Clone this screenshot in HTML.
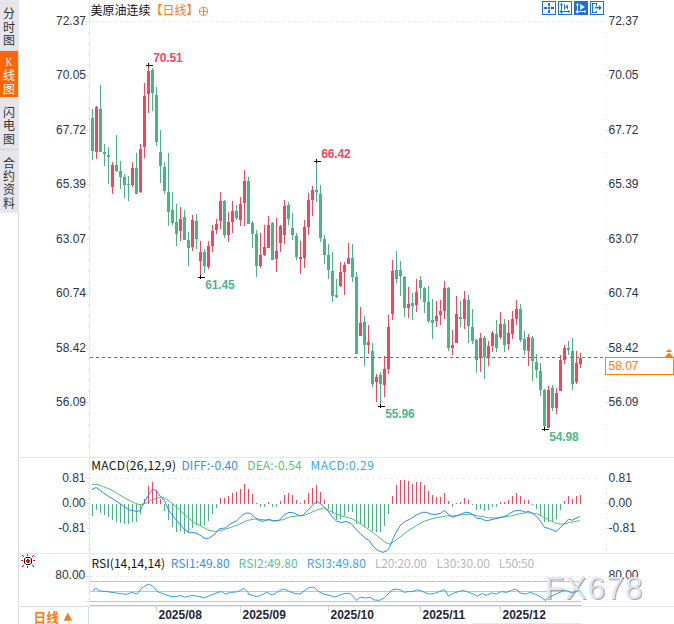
<!DOCTYPE html>
<html lang="zh"><head><meta charset="utf-8"><title>美原油连续 日线</title>
<style>
html,body{margin:0;padding:0;background:#fff}
body{width:674px;height:624px;overflow:hidden;position:relative}
svg{position:absolute;left:0;top:0;display:block}
text{font-family:"Liberation Sans","Noto Sans CJK SC",sans-serif;font-size:12px}
.cj{font-family:"Noto Sans CJK SC","Liberation Sans",sans-serif}
.ax{fill:#2b3446}
.b{font-weight:bold}
</style></head><body>
<svg width="674" height="624" viewBox="0 0 674 624">

<g shape-rendering="crispEdges">
<rect x="0" y="0" width="19" height="213" fill="#e6e6ea"/>
<rect x="0" y="51" width="18" height="46" fill="#ff6600"/>
<rect x="0" y="149" width="19" height="1" fill="#d4d4d8"/>
<rect x="0" y="50" width="19" height="1" fill="#dcdce0"/>
<rect x="18" y="213" width="1" height="411" fill="#d5dde6"/>
<rect x="19" y="457" width="655" height="1" fill="#e3e8ee"/>
<rect x="19" y="553" width="655" height="1" fill="#e3e8ee"/>
<rect x="19" y="606" width="655" height="1" fill="#e3e8ee"/>
<rect x="88" y="606" width="1" height="18" fill="#d5dde6"/>
<rect x="19" y="606" width="70" height="1" fill="#d5dde6"/>
<rect x="89" y="0" width="1" height="606" fill="#e1e8ef"/>
<rect x="472" y="623" width="110" height="1" fill="#e3e8ee"/>
</g>
<text class="cj" x="9" y="18" text-anchor="middle" fill="#333">分</text>
<text class="cj" x="9" y="31.5" text-anchor="middle" fill="#333">时</text>
<text class="cj" x="9" y="45" text-anchor="middle" fill="#333">图</text>
<text x="9" y="65.8" text-anchor="middle" fill="#fff" transform="translate(9 0) scale(0.8 1) translate(-9 0)" style="font-family:'Liberation Serif',serif;font-size:12px">K</text>
<text class="cj" x="9" y="80" text-anchor="middle" fill="#fff">线</text>
<text class="cj" x="9" y="93.5" text-anchor="middle" fill="#fff">图</text>
<text class="cj" x="9" y="116.5" text-anchor="middle" fill="#333">闪</text>
<text class="cj" x="9" y="130" text-anchor="middle" fill="#333">电</text>
<text class="cj" x="9" y="143.5" text-anchor="middle" fill="#333">图</text>
<text class="cj" x="9" y="167.5" text-anchor="middle" fill="#333">合</text>
<text class="cj" x="9" y="180.5" text-anchor="middle" fill="#333">约</text>
<text class="cj" x="9" y="194" text-anchor="middle" fill="#333">资</text>
<text class="cj" x="9" y="208" text-anchor="middle" fill="#333">料</text>
<g shape-rendering="crispEdges" fill="none">
<path d="M90 21.5H603" stroke="#e8edf2" stroke-dasharray="3 3"/>
<path d="M90 478.5H602" stroke="#e8edf2" stroke-dasharray="3 3"/>
<path d="M90 576.5H602" stroke="#e8edf2" stroke-dasharray="3 3"/>
</g>
<g shape-rendering="crispEdges" fill="#d5dde6">
<rect x="86" y="21" width="3" height="1"/>
<rect x="88" y="32" width="1" height="1"/>
<rect x="606" y="32" width="1" height="1"/>
<rect x="88" y="43" width="1" height="1"/>
<rect x="606" y="43" width="1" height="1"/>
<rect x="88" y="54" width="1" height="1"/>
<rect x="606" y="54" width="1" height="1"/>
<rect x="88" y="64" width="1" height="1"/>
<rect x="606" y="64" width="1" height="1"/>
<rect x="86" y="75" width="3" height="1"/>
<rect x="606" y="75" width="3" height="1"/>
<rect x="88" y="86" width="1" height="1"/>
<rect x="606" y="86" width="1" height="1"/>
<rect x="88" y="97" width="1" height="1"/>
<rect x="606" y="97" width="1" height="1"/>
<rect x="88" y="108" width="1" height="1"/>
<rect x="606" y="108" width="1" height="1"/>
<rect x="88" y="119" width="1" height="1"/>
<rect x="606" y="119" width="1" height="1"/>
<rect x="86" y="130" width="3" height="1"/>
<rect x="606" y="130" width="3" height="1"/>
<rect x="88" y="141" width="1" height="1"/>
<rect x="606" y="141" width="1" height="1"/>
<rect x="88" y="152" width="1" height="1"/>
<rect x="606" y="152" width="1" height="1"/>
<rect x="88" y="162" width="1" height="1"/>
<rect x="606" y="162" width="1" height="1"/>
<rect x="88" y="173" width="1" height="1"/>
<rect x="606" y="173" width="1" height="1"/>
<rect x="86" y="184" width="3" height="1"/>
<rect x="606" y="184" width="3" height="1"/>
<rect x="88" y="195" width="1" height="1"/>
<rect x="606" y="195" width="1" height="1"/>
<rect x="88" y="206" width="1" height="1"/>
<rect x="606" y="206" width="1" height="1"/>
<rect x="88" y="217" width="1" height="1"/>
<rect x="606" y="217" width="1" height="1"/>
<rect x="88" y="228" width="1" height="1"/>
<rect x="606" y="228" width="1" height="1"/>
<rect x="86" y="239" width="3" height="1"/>
<rect x="606" y="239" width="3" height="1"/>
<rect x="88" y="250" width="1" height="1"/>
<rect x="606" y="250" width="1" height="1"/>
<rect x="88" y="260" width="1" height="1"/>
<rect x="606" y="260" width="1" height="1"/>
<rect x="88" y="271" width="1" height="1"/>
<rect x="606" y="271" width="1" height="1"/>
<rect x="88" y="282" width="1" height="1"/>
<rect x="606" y="282" width="1" height="1"/>
<rect x="86" y="293" width="3" height="1"/>
<rect x="606" y="293" width="3" height="1"/>
<rect x="88" y="304" width="1" height="1"/>
<rect x="606" y="304" width="1" height="1"/>
<rect x="88" y="315" width="1" height="1"/>
<rect x="606" y="315" width="1" height="1"/>
<rect x="88" y="326" width="1" height="1"/>
<rect x="606" y="326" width="1" height="1"/>
<rect x="88" y="337" width="1" height="1"/>
<rect x="606" y="337" width="1" height="1"/>
<rect x="86" y="348" width="3" height="1"/>
<rect x="606" y="348" width="3" height="1"/>
<rect x="88" y="358" width="1" height="1"/>
<rect x="606" y="358" width="1" height="1"/>
<rect x="88" y="369" width="1" height="1"/>
<rect x="606" y="369" width="1" height="1"/>
<rect x="88" y="380" width="1" height="1"/>
<rect x="606" y="380" width="1" height="1"/>
<rect x="88" y="391" width="1" height="1"/>
<rect x="606" y="391" width="1" height="1"/>
<rect x="86" y="402" width="3" height="1"/>
<rect x="606" y="402" width="3" height="1"/>
<rect x="88" y="413" width="1" height="1"/>
<rect x="606" y="413" width="1" height="1"/>
<rect x="88" y="424" width="1" height="1"/>
<rect x="606" y="424" width="1" height="1"/>
<rect x="88" y="435" width="1" height="1"/>
<rect x="606" y="435" width="1" height="1"/>
<rect x="88" y="446" width="1" height="1"/>
<rect x="606" y="446" width="1" height="1"/>
<rect x="87" y="478" width="2" height="1"/>
<rect x="87" y="503" width="2" height="1"/>
<rect x="606" y="503" width="3" height="1"/>
<rect x="87" y="528" width="2" height="1"/>
<rect x="606" y="528" width="3" height="1"/>
<rect x="88" y="483" width="1" height="1"/>
<rect x="606" y="483" width="1" height="1"/>
<rect x="88" y="488" width="1" height="1"/>
<rect x="606" y="488" width="1" height="1"/>
<rect x="88" y="493" width="1" height="1"/>
<rect x="606" y="493" width="1" height="1"/>
<rect x="88" y="498" width="1" height="1"/>
<rect x="606" y="498" width="1" height="1"/>
<rect x="88" y="508" width="1" height="1"/>
<rect x="606" y="508" width="1" height="1"/>
<rect x="88" y="513" width="1" height="1"/>
<rect x="606" y="513" width="1" height="1"/>
<rect x="88" y="518" width="1" height="1"/>
<rect x="606" y="518" width="1" height="1"/>
<rect x="88" y="523" width="1" height="1"/>
<rect x="606" y="523" width="1" height="1"/>
<rect x="88" y="533" width="1" height="1"/>
<rect x="606" y="533" width="1" height="1"/>
<rect x="88" y="538" width="1" height="1"/>
<rect x="606" y="538" width="1" height="1"/>
<rect x="88" y="544" width="1" height="1"/>
<rect x="606" y="544" width="1" height="1"/>
<rect x="88" y="549" width="1" height="1"/>
<rect x="606" y="549" width="1" height="1"/>
<rect x="88" y="581" width="1" height="1"/>
<rect x="88" y="587" width="1" height="1"/>
<rect x="88" y="593" width="1" height="1"/>
<rect x="88" y="599" width="1" height="1"/>
<rect x="86" y="576" width="3" height="1"/>
<rect x="86" y="581" width="3" height="1"/>
<rect x="86" y="601" width="3" height="1"/>
<rect x="606" y="582" width="1" height="1"/>
<rect x="606" y="588" width="1" height="1"/>
<rect x="606" y="594" width="1" height="1"/>
<rect x="606" y="600" width="1" height="1"/>
</g>
<text class="ax" x="86" y="24.8" text-anchor="end">72.37</text>
<text class="ax" x="608.5" y="24.8">72.37</text>
<text class="ax" x="86" y="79.2" text-anchor="end">70.05</text>
<text class="ax" x="608.5" y="79.2">70.05</text>
<text class="ax" x="86" y="133.7" text-anchor="end">67.72</text>
<text class="ax" x="608.5" y="133.7">67.72</text>
<text class="ax" x="86" y="188.2" text-anchor="end">65.39</text>
<text class="ax" x="608.5" y="188.2">65.39</text>
<text class="ax" x="86" y="242.6" text-anchor="end">63.07</text>
<text class="ax" x="608.5" y="242.6">63.07</text>
<text class="ax" x="86" y="297.0" text-anchor="end">60.74</text>
<text class="ax" x="608.5" y="297.0">60.74</text>
<text class="ax" x="86" y="351.5" text-anchor="end">58.42</text>
<text class="ax" x="608.5" y="351.5">58.42</text>
<text class="ax" x="86" y="405.9" text-anchor="end">56.09</text>
<text class="ax" x="608.5" y="405.9">56.09</text>
<text class="ax" x="85.5" y="481.8" text-anchor="end">0.81</text>
<text class="ax" x="608.5" y="481.8">0.81</text>
<text class="ax" x="85.5" y="507.0" text-anchor="end">0.00</text>
<text class="ax" x="608.5" y="507.0">0.00</text>
<text class="ax" x="85.5" y="532.2" text-anchor="end">-0.81</text>
<text class="ax" x="608.5" y="532.2">-0.81</text>
<text class="ax" x="85.3" y="578.6" text-anchor="end">80.00</text>
<text class="ax" x="608.5" y="578.7">80.00</text>
<g shape-rendering="crispEdges">
<rect x="92" y="109" width="1" height="51" fill="#4db385"/>
<rect x="91" y="118" width="3" height="33" fill="#4db385"/>
<rect x="96" y="106" width="1" height="53" fill="#ea4a5e"/>
<rect x="95" y="107" width="3" height="45" fill="#ea4a5e"/>
<rect x="100" y="85" width="1" height="67" fill="#4db385"/>
<rect x="99" y="109" width="3" height="43" fill="#4db385"/>
<rect x="104" y="144" width="1" height="22" fill="#4db385"/>
<rect x="103" y="152" width="3" height="2" fill="#4db385"/>
<rect x="108" y="147" width="1" height="37" fill="#4db385"/>
<rect x="107" y="155" width="3" height="2" fill="#4db385"/>
<rect x="112" y="162" width="1" height="32" fill="#ea4a5e"/>
<rect x="111" y="165" width="3" height="22" fill="#ea4a5e"/>
<rect x="116" y="135" width="1" height="37" fill="#4db385"/>
<rect x="115" y="165" width="3" height="6" fill="#4db385"/>
<rect x="120" y="161" width="1" height="28" fill="#4db385"/>
<rect x="119" y="171" width="3" height="6" fill="#4db385"/>
<rect x="124" y="174" width="1" height="24" fill="#4db385"/>
<rect x="123" y="177" width="3" height="8" fill="#4db385"/>
<rect x="128" y="176" width="1" height="25" fill="#4db385"/>
<rect x="127" y="184" width="3" height="1" fill="#4db385"/>
<rect x="132" y="162" width="1" height="25" fill="#ea4a5e"/>
<rect x="131" y="168" width="3" height="17" fill="#ea4a5e"/>
<rect x="136" y="153" width="1" height="41" fill="#4db385"/>
<rect x="135" y="168" width="3" height="26" fill="#4db385"/>
<rect x="140" y="144" width="1" height="49" fill="#ea4a5e"/>
<rect x="139" y="149" width="3" height="43" fill="#ea4a5e"/>
<rect x="144" y="83" width="1" height="75" fill="#ea4a5e"/>
<rect x="143" y="96" width="3" height="51" fill="#ea4a5e"/>
<rect x="148" y="65" width="1" height="48" fill="#ea4a5e"/>
<rect x="147" y="71" width="3" height="23" fill="#ea4a5e"/>
<rect x="152" y="68" width="1" height="43" fill="#4db385"/>
<rect x="151" y="70" width="3" height="23" fill="#4db385"/>
<rect x="156" y="87" width="1" height="59" fill="#4db385"/>
<rect x="155" y="95" width="3" height="47" fill="#4db385"/>
<rect x="160" y="130" width="1" height="53" fill="#4db385"/>
<rect x="159" y="152" width="3" height="14" fill="#4db385"/>
<rect x="164" y="162" width="1" height="32" fill="#4db385"/>
<rect x="163" y="167" width="3" height="24" fill="#4db385"/>
<rect x="168" y="153" width="1" height="73" fill="#4db385"/>
<rect x="167" y="192" width="3" height="20" fill="#4db385"/>
<rect x="172" y="192" width="1" height="33" fill="#4db385"/>
<rect x="171" y="210" width="3" height="13" fill="#4db385"/>
<rect x="176" y="204" width="1" height="42" fill="#4db385"/>
<rect x="175" y="222" width="3" height="12" fill="#4db385"/>
<rect x="180" y="207" width="1" height="34" fill="#ea4a5e"/>
<rect x="179" y="219" width="3" height="12" fill="#ea4a5e"/>
<rect x="184" y="210" width="1" height="30" fill="#4db385"/>
<rect x="183" y="217" width="3" height="23" fill="#4db385"/>
<rect x="188" y="232" width="1" height="34" fill="#4db385"/>
<rect x="187" y="240" width="3" height="8" fill="#4db385"/>
<rect x="192" y="215" width="1" height="36" fill="#ea4a5e"/>
<rect x="191" y="220" width="3" height="27" fill="#ea4a5e"/>
<rect x="196" y="214" width="1" height="35" fill="#4db385"/>
<rect x="195" y="221" width="3" height="18" fill="#4db385"/>
<rect x="200" y="241" width="1" height="36" fill="#ea4a5e"/>
<rect x="199" y="252" width="3" height="9" fill="#ea4a5e"/>
<rect x="204" y="249" width="1" height="24" fill="#4db385"/>
<rect x="203" y="252" width="3" height="14" fill="#4db385"/>
<rect x="208" y="241" width="1" height="28" fill="#ea4a5e"/>
<rect x="207" y="246" width="3" height="21" fill="#ea4a5e"/>
<rect x="212" y="225" width="1" height="27" fill="#ea4a5e"/>
<rect x="211" y="231" width="3" height="15" fill="#ea4a5e"/>
<rect x="216" y="219" width="1" height="15" fill="#ea4a5e"/>
<rect x="215" y="224" width="3" height="6" fill="#ea4a5e"/>
<rect x="220" y="192" width="1" height="37" fill="#ea4a5e"/>
<rect x="219" y="201" width="3" height="20" fill="#ea4a5e"/>
<rect x="224" y="200" width="1" height="38" fill="#4db385"/>
<rect x="223" y="201" width="3" height="34" fill="#4db385"/>
<rect x="228" y="212" width="1" height="30" fill="#ea4a5e"/>
<rect x="227" y="222" width="3" height="13" fill="#ea4a5e"/>
<rect x="232" y="201" width="1" height="32" fill="#ea4a5e"/>
<rect x="231" y="211" width="3" height="11" fill="#ea4a5e"/>
<rect x="236" y="205" width="1" height="15" fill="#4db385"/>
<rect x="235" y="211" width="3" height="7" fill="#4db385"/>
<rect x="240" y="197" width="1" height="29" fill="#ea4a5e"/>
<rect x="239" y="204" width="3" height="16" fill="#ea4a5e"/>
<rect x="244" y="170" width="1" height="56" fill="#ea4a5e"/>
<rect x="243" y="181" width="3" height="22" fill="#ea4a5e"/>
<rect x="248" y="177" width="1" height="47" fill="#4db385"/>
<rect x="247" y="181" width="3" height="43" fill="#4db385"/>
<rect x="252" y="221" width="1" height="27" fill="#4db385"/>
<rect x="251" y="223" width="3" height="11" fill="#4db385"/>
<rect x="256" y="230" width="1" height="47" fill="#4db385"/>
<rect x="255" y="234" width="3" height="32" fill="#4db385"/>
<rect x="260" y="233" width="1" height="35" fill="#ea4a5e"/>
<rect x="259" y="255" width="3" height="11" fill="#ea4a5e"/>
<rect x="264" y="225" width="1" height="31" fill="#ea4a5e"/>
<rect x="263" y="247" width="3" height="8" fill="#ea4a5e"/>
<rect x="268" y="216" width="1" height="32" fill="#ea4a5e"/>
<rect x="267" y="225" width="3" height="23" fill="#ea4a5e"/>
<rect x="272" y="222" width="1" height="38" fill="#4db385"/>
<rect x="271" y="223" width="3" height="37" fill="#4db385"/>
<rect x="276" y="218" width="1" height="54" fill="#ea4a5e"/>
<rect x="275" y="251" width="3" height="8" fill="#ea4a5e"/>
<rect x="280" y="225" width="1" height="27" fill="#ea4a5e"/>
<rect x="279" y="226" width="3" height="17" fill="#ea4a5e"/>
<rect x="284" y="200" width="1" height="44" fill="#ea4a5e"/>
<rect x="283" y="206" width="3" height="29" fill="#ea4a5e"/>
<rect x="288" y="202" width="1" height="23" fill="#4db385"/>
<rect x="287" y="205" width="3" height="14" fill="#4db385"/>
<rect x="292" y="213" width="1" height="27" fill="#4db385"/>
<rect x="291" y="228" width="3" height="7" fill="#4db385"/>
<rect x="296" y="233" width="1" height="27" fill="#4db385"/>
<rect x="295" y="236" width="3" height="21" fill="#4db385"/>
<rect x="300" y="241" width="1" height="33" fill="#ea4a5e"/>
<rect x="299" y="257" width="3" height="2" fill="#ea4a5e"/>
<rect x="304" y="220" width="1" height="48" fill="#ea4a5e"/>
<rect x="303" y="227" width="3" height="31" fill="#ea4a5e"/>
<rect x="308" y="193" width="1" height="42" fill="#ea4a5e"/>
<rect x="307" y="200" width="3" height="27" fill="#ea4a5e"/>
<rect x="312" y="186" width="1" height="30" fill="#ea4a5e"/>
<rect x="311" y="190" width="3" height="10" fill="#ea4a5e"/>
<rect x="316" y="161" width="1" height="41" fill="#4db385"/>
<rect x="315" y="190" width="3" height="2" fill="#4db385"/>
<rect x="320" y="185" width="1" height="57" fill="#4db385"/>
<rect x="319" y="194" width="3" height="44" fill="#4db385"/>
<rect x="324" y="235" width="1" height="29" fill="#4db385"/>
<rect x="323" y="239" width="3" height="16" fill="#4db385"/>
<rect x="328" y="244" width="1" height="35" fill="#4db385"/>
<rect x="327" y="255" width="3" height="15" fill="#4db385"/>
<rect x="332" y="252" width="1" height="50" fill="#4db385"/>
<rect x="331" y="271" width="3" height="25" fill="#4db385"/>
<rect x="336" y="279" width="1" height="19" fill="#4db385"/>
<rect x="335" y="295" width="3" height="2" fill="#4db385"/>
<rect x="340" y="262" width="1" height="25" fill="#ea4a5e"/>
<rect x="339" y="272" width="3" height="14" fill="#ea4a5e"/>
<rect x="344" y="262" width="1" height="33" fill="#ea4a5e"/>
<rect x="343" y="265" width="3" height="7" fill="#ea4a5e"/>
<rect x="348" y="243" width="1" height="21" fill="#ea4a5e"/>
<rect x="347" y="258" width="3" height="6" fill="#ea4a5e"/>
<rect x="352" y="244" width="1" height="38" fill="#4db385"/>
<rect x="351" y="258" width="3" height="19" fill="#4db385"/>
<rect x="356" y="272" width="1" height="82" fill="#4db385"/>
<rect x="355" y="277" width="3" height="77" fill="#4db385"/>
<rect x="360" y="307" width="1" height="29" fill="#ea4a5e"/>
<rect x="359" y="323" width="3" height="13" fill="#ea4a5e"/>
<rect x="364" y="316" width="1" height="50" fill="#4db385"/>
<rect x="363" y="322" width="3" height="23" fill="#4db385"/>
<rect x="368" y="325" width="1" height="29" fill="#ea4a5e"/>
<rect x="367" y="342" width="3" height="3" fill="#ea4a5e"/>
<rect x="372" y="343" width="1" height="44" fill="#4db385"/>
<rect x="371" y="351" width="3" height="33" fill="#4db385"/>
<rect x="376" y="374" width="1" height="28" fill="#ea4a5e"/>
<rect x="375" y="377" width="3" height="5" fill="#ea4a5e"/>
<rect x="380" y="372" width="1" height="34" fill="#4db385"/>
<rect x="379" y="375" width="3" height="9" fill="#4db385"/>
<rect x="384" y="356" width="1" height="41" fill="#ea4a5e"/>
<rect x="383" y="369" width="3" height="16" fill="#ea4a5e"/>
<rect x="388" y="315" width="1" height="59" fill="#ea4a5e"/>
<rect x="387" y="327" width="3" height="42" fill="#ea4a5e"/>
<rect x="392" y="260" width="1" height="60" fill="#ea4a5e"/>
<rect x="391" y="271" width="3" height="43" fill="#ea4a5e"/>
<rect x="396" y="251" width="1" height="32" fill="#4db385"/>
<rect x="395" y="270" width="3" height="9" fill="#4db385"/>
<rect x="400" y="261" width="1" height="35" fill="#4db385"/>
<rect x="399" y="270" width="3" height="6" fill="#4db385"/>
<rect x="404" y="276" width="1" height="41" fill="#4db385"/>
<rect x="403" y="277" width="3" height="31" fill="#4db385"/>
<rect x="408" y="287" width="1" height="31" fill="#ea4a5e"/>
<rect x="407" y="304" width="3" height="4" fill="#ea4a5e"/>
<rect x="412" y="293" width="1" height="27" fill="#4db385"/>
<rect x="411" y="303" width="3" height="3" fill="#4db385"/>
<rect x="416" y="279" width="1" height="33" fill="#ea4a5e"/>
<rect x="415" y="292" width="3" height="13" fill="#ea4a5e"/>
<rect x="420" y="276" width="1" height="23" fill="#4db385"/>
<rect x="419" y="280" width="3" height="8" fill="#4db385"/>
<rect x="424" y="287" width="1" height="26" fill="#4db385"/>
<rect x="423" y="288" width="3" height="14" fill="#4db385"/>
<rect x="428" y="286" width="1" height="37" fill="#4db385"/>
<rect x="427" y="302" width="3" height="19" fill="#4db385"/>
<rect x="432" y="299" width="1" height="40" fill="#4db385"/>
<rect x="431" y="320" width="3" height="3" fill="#4db385"/>
<rect x="436" y="301" width="1" height="26" fill="#ea4a5e"/>
<rect x="435" y="316" width="3" height="5" fill="#ea4a5e"/>
<rect x="440" y="300" width="1" height="25" fill="#ea4a5e"/>
<rect x="439" y="311" width="3" height="4" fill="#ea4a5e"/>
<rect x="444" y="281" width="1" height="38" fill="#ea4a5e"/>
<rect x="443" y="288" width="3" height="23" fill="#ea4a5e"/>
<rect x="448" y="287" width="1" height="64" fill="#4db385"/>
<rect x="447" y="288" width="3" height="60" fill="#4db385"/>
<rect x="452" y="330" width="1" height="25" fill="#ea4a5e"/>
<rect x="451" y="345" width="3" height="3" fill="#ea4a5e"/>
<rect x="456" y="296" width="1" height="47" fill="#ea4a5e"/>
<rect x="455" y="314" width="3" height="29" fill="#ea4a5e"/>
<rect x="460" y="301" width="1" height="26" fill="#4db385"/>
<rect x="459" y="317" width="3" height="2" fill="#4db385"/>
<rect x="464" y="291" width="1" height="38" fill="#ea4a5e"/>
<rect x="463" y="299" width="3" height="20" fill="#ea4a5e"/>
<rect x="468" y="295" width="1" height="48" fill="#4db385"/>
<rect x="467" y="300" width="3" height="26" fill="#4db385"/>
<rect x="472" y="309" width="1" height="35" fill="#4db385"/>
<rect x="471" y="327" width="3" height="14" fill="#4db385"/>
<rect x="476" y="339" width="1" height="34" fill="#4db385"/>
<rect x="475" y="340" width="3" height="20" fill="#4db385"/>
<rect x="480" y="333" width="1" height="39" fill="#ea4a5e"/>
<rect x="479" y="338" width="3" height="20" fill="#ea4a5e"/>
<rect x="484" y="336" width="1" height="43" fill="#4db385"/>
<rect x="483" y="338" width="3" height="19" fill="#4db385"/>
<rect x="488" y="341" width="1" height="25" fill="#ea4a5e"/>
<rect x="487" y="346" width="3" height="12" fill="#ea4a5e"/>
<rect x="492" y="331" width="1" height="21" fill="#ea4a5e"/>
<rect x="491" y="333" width="3" height="13" fill="#ea4a5e"/>
<rect x="496" y="320" width="1" height="32" fill="#4db385"/>
<rect x="495" y="334" width="3" height="14" fill="#4db385"/>
<rect x="500" y="312" width="1" height="27" fill="#ea4a5e"/>
<rect x="499" y="324" width="3" height="13" fill="#ea4a5e"/>
<rect x="504" y="319" width="1" height="33" fill="#4db385"/>
<rect x="503" y="324" width="3" height="21" fill="#4db385"/>
<rect x="508" y="320" width="1" height="30" fill="#ea4a5e"/>
<rect x="507" y="333" width="3" height="11" fill="#ea4a5e"/>
<rect x="512" y="311" width="1" height="28" fill="#ea4a5e"/>
<rect x="511" y="319" width="3" height="15" fill="#ea4a5e"/>
<rect x="516" y="300" width="1" height="25" fill="#ea4a5e"/>
<rect x="515" y="309" width="3" height="10" fill="#ea4a5e"/>
<rect x="520" y="304" width="1" height="38" fill="#4db385"/>
<rect x="519" y="309" width="3" height="31" fill="#4db385"/>
<rect x="524" y="331" width="1" height="24" fill="#4db385"/>
<rect x="523" y="339" width="3" height="11" fill="#4db385"/>
<rect x="528" y="334" width="1" height="32" fill="#ea4a5e"/>
<rect x="527" y="337" width="3" height="14" fill="#ea4a5e"/>
<rect x="532" y="336" width="1" height="45" fill="#4db385"/>
<rect x="531" y="338" width="3" height="23" fill="#4db385"/>
<rect x="536" y="354" width="1" height="24" fill="#4db385"/>
<rect x="535" y="362" width="3" height="8" fill="#4db385"/>
<rect x="540" y="363" width="1" height="33" fill="#4db385"/>
<rect x="539" y="371" width="3" height="19" fill="#4db385"/>
<rect x="544" y="389" width="1" height="41" fill="#4db385"/>
<rect x="543" y="390" width="3" height="36" fill="#4db385"/>
<rect x="548" y="386" width="1" height="42" fill="#ea4a5e"/>
<rect x="547" y="390" width="3" height="38" fill="#ea4a5e"/>
<rect x="552" y="385" width="1" height="26" fill="#4db385"/>
<rect x="551" y="388" width="3" height="20" fill="#4db385"/>
<rect x="556" y="388" width="1" height="26" fill="#ea4a5e"/>
<rect x="555" y="393" width="3" height="15" fill="#ea4a5e"/>
<rect x="560" y="355" width="1" height="36" fill="#ea4a5e"/>
<rect x="559" y="360" width="3" height="31" fill="#ea4a5e"/>
<rect x="564" y="345" width="1" height="19" fill="#ea4a5e"/>
<rect x="563" y="348" width="3" height="12" fill="#ea4a5e"/>
<rect x="568" y="341" width="1" height="14" fill="#4db385"/>
<rect x="567" y="348" width="3" height="2" fill="#4db385"/>
<rect x="572" y="338" width="1" height="52" fill="#4db385"/>
<rect x="571" y="351" width="3" height="33" fill="#4db385"/>
<rect x="576" y="351" width="1" height="33" fill="#ea4a5e"/>
<rect x="575" y="363" width="3" height="19" fill="#ea4a5e"/>
<rect x="580" y="353" width="1" height="15" fill="#ea4a5e"/>
<rect x="579" y="358" width="3" height="6" fill="#ea4a5e"/>
</g>
<path d="M90 357.5H605" stroke="#1a83f0" stroke-dasharray="3 3" fill="none" shape-rendering="crispEdges"/>
<rect x="605.5" y="357.5" width="68" height="17" fill="#fff" stroke="#ff8000" shape-rendering="crispEdges"/>
<text x="608.5" y="370" fill="#ff8000">58.07</text>
<path d="M664.8 357L669 352.4L673.2 357Z M665.9 352L669 348.9L672.1 352Z" fill="#ff8000"/>
<g shape-rendering="crispEdges" fill="#000"><rect x="146" y="65" width="7" height="1"/><rect x="148" y="63" width="1" height="4"/></g>
<g shape-rendering="crispEdges" fill="#000"><rect x="314" y="161" width="7" height="1"/><rect x="316" y="159" width="1" height="4"/></g>
<g shape-rendering="crispEdges" fill="#000"><rect x="198" y="277" width="7" height="1"/><rect x="200" y="275" width="1" height="4"/></g>
<g shape-rendering="crispEdges" fill="#000"><rect x="378" y="406" width="7" height="1"/><rect x="380" y="404" width="1" height="4"/></g>
<g shape-rendering="crispEdges" fill="#000"><rect x="542" y="429" width="7" height="1"/><rect x="544" y="427" width="1" height="4"/></g>
<text class="b" x="153.3" y="61.6" fill="#ee4a62" textLength="29.4">70.51</text>
<text class="b" x="321.3" y="157.8" fill="#ee4a62" textLength="29.4">66.42</text>
<text class="b" x="205.3" y="289.2" fill="#4fb58a" textLength="29.4">61.45</text>
<text class="b" x="385.3" y="417.8" fill="#4fb58a" textLength="29.4">55.96</text>
<text class="b" x="549.3" y="440.8" fill="#4fb58a" textLength="29.4">54.98</text>
<text class="cj" x="90.5" y="14.6" fill="#111">美原油连续<tspan fill="#ff7a14">【日线】</tspan></text>
<g stroke="#ff7a14" fill="none" stroke-width="0.9"><circle cx="203.5" cy="11.3" r="4.1"/><path d="M199.4 11.3H207.6M203.5 7.2V15.4"/></g>
<g shape-rendering="crispEdges">
<rect x="542.5" y="1.5" width="13" height="13" fill="#fff" stroke="#1874cd"/>
<rect x="558.5" y="1.5" width="13" height="13" fill="#fff" stroke="#1874cd"/>
<rect x="590.5" y="1.5" width="13" height="13" fill="#fff" stroke="#1874cd"/>
<rect x="574" y="1" width="14" height="14" fill="#1874cd"/>
<g fill="#1874cd"><rect x="548" y="3" width="2" height="3"/><rect x="548" y="10" width="2" height="3"/><rect x="544" y="7" width="3" height="2"/><rect x="551" y="7" width="3" height="2"/><rect x="548" y="7" width="2" height="2"/></g>
</g>
<g fill="#1874cd" stroke="none"><rect x="561" y="3.6" width="1" height="9.6"/><path d="M559.9 5.3L561.5 2.7L563.1 5.3Z M560.1 12.2H562.9L561.5 13.7Z"/><rect x="560" y="11" width="9.4" height="1"/><path d="M568.2 9.8L570.3 11.5L568.2 13.2Z M561 10.2V12.8L559.6 11.5Z"/></g>
<g fill="#1874cd"><rect x="564" y="4.4" width="1" height="5.4"/><path d="M568 4.6V9.6L565.3 7.1Z"/></g>
<g fill="#fff" stroke="none"><rect x="577" y="3.6" width="1" height="9.6"/><path d="M575.9 5.3L577.5 2.7L579.1 5.3Z M576.1 12.2H578.9L577.5 13.7Z"/><rect x="576" y="11" width="9.4" height="1"/><path d="M584.2 9.8L586.3 11.5L584.2 13.2Z M577 10.2V12.8L575.6 11.5Z"/></g>
<path d="M580.1 3.9V10.1L584.9 7Z" fill="#fff"/><path d="M581.6 6V8.2L583.4 7.1Z" fill="#a9cbee"/>
<g fill="none" stroke="#1874cd" shape-rendering="crispEdges"><path d="M596.5 5.5V3.5H592.5V12.5H596.5V10.5"/></g><path d="M595 6.8H599V5L601.8 7.7L599 10.4V8.6H595Z" fill="#1874cd"/>
<g shape-rendering="crispEdges">
<rect x="92" y="504" width="1" height="12" fill="#4db385"/>
<rect x="96" y="504" width="1" height="6" fill="#4db385"/>
<rect x="100" y="504" width="1" height="9" fill="#4db385"/>
<rect x="104" y="504" width="1" height="11" fill="#4db385"/>
<rect x="108" y="504" width="1" height="13" fill="#4db385"/>
<rect x="112" y="504" width="1" height="16" fill="#4db385"/>
<rect x="116" y="504" width="1" height="18" fill="#4db385"/>
<rect x="120" y="504" width="1" height="19" fill="#4db385"/>
<rect x="124" y="504" width="1" height="20" fill="#4db385"/>
<rect x="128" y="504" width="1" height="20" fill="#4db385"/>
<rect x="132" y="504" width="1" height="18" fill="#4db385"/>
<rect x="136" y="504" width="1" height="18" fill="#4db385"/>
<rect x="140" y="504" width="1" height="10" fill="#4db385"/>
<rect x="144" y="499" width="1" height="5" fill="#ea4a5e"/>
<rect x="148" y="486" width="1" height="18" fill="#ea4a5e"/>
<rect x="152" y="482" width="1" height="22" fill="#ea4a5e"/>
<rect x="156" y="490" width="1" height="14" fill="#ea4a5e"/>
<rect x="160" y="499" width="1" height="5" fill="#ea4a5e"/>
<rect x="164" y="504" width="1" height="7" fill="#4db385"/>
<rect x="168" y="504" width="1" height="16" fill="#4db385"/>
<rect x="172" y="504" width="1" height="23" fill="#4db385"/>
<rect x="176" y="504" width="1" height="28" fill="#4db385"/>
<rect x="180" y="504" width="1" height="27" fill="#4db385"/>
<rect x="184" y="504" width="1" height="30" fill="#4db385"/>
<rect x="188" y="504" width="1" height="29" fill="#4db385"/>
<rect x="192" y="504" width="1" height="24" fill="#4db385"/>
<rect x="196" y="504" width="1" height="21" fill="#4db385"/>
<rect x="200" y="504" width="1" height="22" fill="#4db385"/>
<rect x="204" y="504" width="1" height="21" fill="#4db385"/>
<rect x="208" y="504" width="1" height="17" fill="#4db385"/>
<rect x="212" y="504" width="1" height="10" fill="#4db385"/>
<rect x="216" y="504" width="1" height="4" fill="#4db385"/>
<rect x="220" y="498" width="1" height="6" fill="#ea4a5e"/>
<rect x="224" y="498" width="1" height="6" fill="#ea4a5e"/>
<rect x="228" y="496" width="1" height="8" fill="#ea4a5e"/>
<rect x="232" y="493" width="1" height="11" fill="#ea4a5e"/>
<rect x="236" y="492" width="1" height="12" fill="#ea4a5e"/>
<rect x="240" y="489" width="1" height="15" fill="#ea4a5e"/>
<rect x="244" y="484" width="1" height="20" fill="#ea4a5e"/>
<rect x="248" y="489" width="1" height="15" fill="#ea4a5e"/>
<rect x="252" y="494" width="1" height="10" fill="#ea4a5e"/>
<rect x="256" y="503" width="1" height="1" fill="#ea4a5e"/>
<rect x="260" y="504" width="1" height="3" fill="#4db385"/>
<rect x="264" y="504" width="1" height="3" fill="#4db385"/>
<rect x="268" y="502" width="1" height="2" fill="#ea4a5e"/>
<rect x="272" y="504" width="1" height="3" fill="#4db385"/>
<rect x="276" y="504" width="1" height="3" fill="#4db385"/>
<rect x="280" y="501" width="1" height="3" fill="#ea4a5e"/>
<rect x="284" y="495" width="1" height="9" fill="#ea4a5e"/>
<rect x="288" y="493" width="1" height="11" fill="#ea4a5e"/>
<rect x="292" y="495" width="1" height="9" fill="#ea4a5e"/>
<rect x="296" y="500" width="1" height="4" fill="#ea4a5e"/>
<rect x="300" y="503" width="1" height="1" fill="#ea4a5e"/>
<rect x="304" y="500" width="1" height="4" fill="#ea4a5e"/>
<rect x="308" y="493" width="1" height="11" fill="#ea4a5e"/>
<rect x="312" y="488" width="1" height="16" fill="#ea4a5e"/>
<rect x="316" y="485" width="1" height="19" fill="#ea4a5e"/>
<rect x="320" y="492" width="1" height="12" fill="#ea4a5e"/>
<rect x="324" y="500" width="1" height="4" fill="#ea4a5e"/>
<rect x="328" y="504" width="1" height="5" fill="#4db385"/>
<rect x="332" y="504" width="1" height="10" fill="#4db385"/>
<rect x="336" y="504" width="1" height="16" fill="#4db385"/>
<rect x="340" y="504" width="1" height="15" fill="#4db385"/>
<rect x="344" y="504" width="1" height="12" fill="#4db385"/>
<rect x="348" y="504" width="1" height="8" fill="#4db385"/>
<rect x="352" y="504" width="1" height="8" fill="#4db385"/>
<rect x="356" y="504" width="1" height="20" fill="#4db385"/>
<rect x="360" y="504" width="1" height="20" fill="#4db385"/>
<rect x="364" y="504" width="1" height="23" fill="#4db385"/>
<rect x="368" y="504" width="1" height="24" fill="#4db385"/>
<rect x="372" y="504" width="1" height="27" fill="#4db385"/>
<rect x="376" y="504" width="1" height="28" fill="#4db385"/>
<rect x="380" y="504" width="1" height="28" fill="#4db385"/>
<rect x="384" y="504" width="1" height="22" fill="#4db385"/>
<rect x="388" y="504" width="1" height="10" fill="#4db385"/>
<rect x="392" y="496" width="1" height="8" fill="#ea4a5e"/>
<rect x="396" y="485" width="1" height="19" fill="#ea4a5e"/>
<rect x="400" y="480" width="1" height="24" fill="#ea4a5e"/>
<rect x="404" y="480" width="1" height="24" fill="#ea4a5e"/>
<rect x="408" y="481" width="1" height="23" fill="#ea4a5e"/>
<rect x="412" y="484" width="1" height="20" fill="#ea4a5e"/>
<rect x="416" y="482" width="1" height="22" fill="#ea4a5e"/>
<rect x="420" y="482" width="1" height="22" fill="#ea4a5e"/>
<rect x="424" y="485" width="1" height="19" fill="#ea4a5e"/>
<rect x="428" y="491" width="1" height="13" fill="#ea4a5e"/>
<rect x="432" y="495" width="1" height="9" fill="#ea4a5e"/>
<rect x="436" y="497" width="1" height="7" fill="#ea4a5e"/>
<rect x="440" y="497" width="1" height="7" fill="#ea4a5e"/>
<rect x="444" y="493" width="1" height="11" fill="#ea4a5e"/>
<rect x="448" y="501" width="1" height="3" fill="#ea4a5e"/>
<rect x="452" y="504" width="1" height="3" fill="#4db385"/>
<rect x="456" y="503" width="1" height="1" fill="#ea4a5e"/>
<rect x="460" y="502" width="1" height="2" fill="#ea4a5e"/>
<rect x="464" y="498" width="1" height="6" fill="#ea4a5e"/>
<rect x="468" y="500" width="1" height="4" fill="#ea4a5e"/>
<rect x="472" y="504" width="1" height="1" fill="#4db385"/>
<rect x="476" y="504" width="1" height="6" fill="#4db385"/>
<rect x="480" y="504" width="1" height="5" fill="#4db385"/>
<rect x="484" y="504" width="1" height="7" fill="#4db385"/>
<rect x="488" y="504" width="1" height="6" fill="#4db385"/>
<rect x="492" y="504" width="1" height="3" fill="#4db385"/>
<rect x="496" y="504" width="1" height="3" fill="#4db385"/>
<rect x="500" y="502" width="1" height="2" fill="#ea4a5e"/>
<rect x="504" y="502" width="1" height="2" fill="#ea4a5e"/>
<rect x="508" y="500" width="1" height="4" fill="#ea4a5e"/>
<rect x="512" y="496" width="1" height="8" fill="#ea4a5e"/>
<rect x="516" y="493" width="1" height="11" fill="#ea4a5e"/>
<rect x="520" y="496" width="1" height="8" fill="#ea4a5e"/>
<rect x="524" y="500" width="1" height="4" fill="#ea4a5e"/>
<rect x="528" y="500" width="1" height="4" fill="#ea4a5e"/>
<rect x="532" y="504" width="1" height="1" fill="#4db385"/>
<rect x="536" y="504" width="1" height="5" fill="#4db385"/>
<rect x="540" y="504" width="1" height="11" fill="#4db385"/>
<rect x="544" y="504" width="1" height="18" fill="#4db385"/>
<rect x="548" y="504" width="1" height="18" fill="#4db385"/>
<rect x="552" y="504" width="1" height="18" fill="#4db385"/>
<rect x="556" y="504" width="1" height="15" fill="#4db385"/>
<rect x="560" y="504" width="1" height="6" fill="#4db385"/>
<rect x="564" y="501" width="1" height="3" fill="#ea4a5e"/>
<rect x="568" y="496" width="1" height="8" fill="#ea4a5e"/>
<rect x="572" y="499" width="1" height="5" fill="#ea4a5e"/>
<rect x="576" y="496" width="1" height="8" fill="#ea4a5e"/>
<rect x="580" y="495" width="1" height="9" fill="#ea4a5e"/>
</g>
<polyline points="91.9,484.3 97.6,484.5 103.4,486.8 111.1,489.7 118.9,494.5 126.6,499.0 134.3,502.8 140.1,504.8 145.9,503.2 151.6,500.3 156.5,498.4 161.3,497.0 165.2,498.4 170.9,502.3 178.7,509.0 186.4,516.3 194.1,522.5 201.8,526.4 207.6,529.8 215.7,531.6 223.4,529.8 231.1,527.3 238.9,524.4 246.6,520.6 254.3,519.0 262.0,519.6 269.7,520.2 277.4,520.6 283.2,519.6 290.9,516.7 298.7,515.8 304.4,515.4 310.2,512.9 317.9,509.6 323.7,508.0 333.8,512.9 339.6,515.4 345.4,517.1 351.1,518.3 356.9,521.5 362.7,525.4 368.5,529.3 374.3,533.7 380.1,538.3 385.9,542.8 390.1,544.1 394.5,541.2 401.3,536.0 409.0,530.2 416.7,525.4 424.4,521.2 432.2,518.6 439.9,517.1 447.6,515.8 453.8,515.9 459.6,515.2 465.4,514.4 471.1,514.4 476.9,515.8 482.7,516.7 488.5,517.7 496.2,517.9 503.9,517.1 511.6,515.8 519.4,513.8 525.2,512.9 530.9,512.9 536.7,513.8 542.5,516.3 548.3,519.6 554.1,522.5 559.9,524.1 563.7,524.1 569.5,522.5 579.7,520.6" fill="none" stroke="#4cbf7a" stroke-width="1" stroke-linejoin="round"/>
<polyline points="91.9,489.7 96.1,487.4 100.5,490.7 107.3,495.5 115.0,500.3 122.7,505.5 129.5,510.0 136.2,511.3 140.1,510.9 143.9,503.2 148.8,494.5 152.6,489.3 156.5,490.7 160.3,496.5 164.2,500.3 169.0,510.9 176.7,520.6 184.4,529.3 189.3,532.7 195.0,532.7 199.9,535.0 204.7,538.3 208.5,538.3 213.8,535.0 219.6,528.7 225.4,527.9 231.1,523.5 236.9,520.6 242.7,514.8 246.6,512.9 250.4,513.4 255.3,517.7 260.1,521.0 263.9,521.2 268.8,519.2 273.6,521.2 279.4,520.2 284.2,514.8 289.0,512.3 293.8,512.9 298.7,515.4 302.5,515.8 307.3,510.9 312.2,505.5 317.0,501.3 321.8,504.8 326.6,509.0 331.9,516.7 336.7,521.2 341.5,522.5 346.3,521.5 351.1,523.5 356.0,529.3 360.8,534.1 365.6,538.3 369.5,540.8 373.3,546.6 378.1,550.5 383.0,552.4 386.8,550.9 389.7,547.2 392.6,539.9 395.5,533.1 400.3,525.4 405.2,521.5 410.9,518.6 416.7,514.8 422.5,512.3 426.4,512.3 431.2,514.2 436.0,514.4 440.8,513.2 444.3,510.5 448.5,514.4 452.2,517.1 456.7,515.8 461.5,513.8 465.4,512.3 469.2,512.5 473.1,514.8 476.9,518.3 480.8,518.6 485.6,520.6 489.5,520.2 494.3,519.0 500.1,517.7 505.9,515.8 510.7,512.9 514.5,510.9 518.4,510.4 522.3,510.9 525.2,512.3 528.0,511.3 531.9,512.9 536.7,516.7 540.6,521.5 544.4,527.3 548.3,528.3 553.1,530.2 556.0,531.6 559.9,527.9 563.7,524.4 568.5,519.2 572.4,520.2 579.7,516.3" fill="none" stroke="#2f86f5" stroke-width="1" stroke-linejoin="round"/>
<text class="cj" x="91.3" y="470.4" fill="#111" textLength="84.8">MACD(26,12,9)</text>
<text class="cj" x="181.5" y="470.4" fill="#3b8cf5" textLength="56.5">DIFF:-0.40</text>
<text class="cj" x="247.3" y="470.4" fill="#56c586" textLength="54.3">DEA:-0.54</text>
<text class="cj" x="310.6" y="470.4" fill="#38a8e8" textLength="63.2">MACD:0.29</text>
<g shape-rendering="crispEdges" fill="#c4c4c4">
<rect x="90" y="581" width="491" height="1"/>
<rect x="90" y="591" width="491" height="1"/>
<rect x="90" y="601" width="491" height="1"/>
<rect x="90" y="605" width="491" height="1"/>
</g>
<text class="cj" x="91.5" y="567.6" fill="#111" textLength="73.5">RSI(14,14,14)</text>
<text class="cj" x="170.7" y="567.6" fill="#3b8cf5" textLength="59">RSI1:49.80</text>
<text class="cj" x="238.6" y="567.6" fill="#56c586" textLength="59">RSI2:49.80</text>
<text class="cj" x="306.8" y="567.6" fill="#38a8e8" textLength="59">RSI3:49.80</text>
<text class="cj" x="374.9" y="567.6" fill="#b8b8b8" textLength="52">L20:20.00</text>
<text class="cj" x="436.5" y="567.6" fill="#b8b8b8" textLength="53.5">L30:30.00</text>
<text class="cj" x="498.8" y="567.6" fill="#b8b8b8" textLength="35.3">L50:50</text>
<polygon points="26,557.5 30,557.5 31.5,559 31.5,563 30,564.5 26,564.5 24.5,563 24.5,559" fill="#fff" stroke="#000" stroke-width="1"/>
<g fill="#f00" shape-rendering="crispEdges"><rect x="27" y="559" width="2" height="4"/><rect x="26" y="560" width="4" height="2"/><rect x="27" y="554" width="1" height="2"/><rect x="27" y="566" width="1" height="2"/><rect x="21" y="560" width="2" height="1"/><rect x="33" y="560" width="2" height="1"/><rect x="22" y="555" width="1" height="1"/><rect x="23" y="556" width="1" height="1"/><rect x="33" y="555" width="1" height="1"/><rect x="32" y="556" width="1" height="1"/><rect x="22" y="566" width="1" height="1"/><rect x="23" y="565" width="1" height="1"/><rect x="33" y="566" width="1" height="1"/><rect x="32" y="565" width="1" height="1"/></g>
<g shape-rendering="crispEdges" fill="#c9d3de">
<rect x="156" y="606" width="1" height="6"/>
<rect x="240" y="606" width="1" height="6"/>
<rect x="328" y="606" width="1" height="6"/>
<rect x="420" y="606" width="1" height="6"/>
<rect x="500" y="606" width="1" height="6"/>
</g>
<text class="b" x="158.5" y="619" fill="#1e2638">2025/08</text>
<text class="b" x="242.5" y="619" fill="#1e2638">2025/09</text>
<text class="b" x="330.5" y="619" fill="#1e2638">2025/10</text>
<text class="b" x="422.5" y="619" fill="#1e2638">2025/11</text>
<text class="b" x="502.5" y="619" fill="#1e2638">2025/12</text>
<text class="cj b" x="33.6" y="621.7" fill="#ff7a14" style="font-size:12.6px">日线</text>
<path d="M63.5 620.8L67.8 612.6L72.1 620.8Z" fill="#ff7a14"/>
<text x="546" y="600.2" letter-spacing="1.2" fill="#8f7b6b" fill-opacity="0.7" style="font-size:31.5px">FX678</text>
<text x="544.8" y="599" letter-spacing="1.2" fill="#dce7f6" style="font-size:31.5px">FX678</text>
<polyline points="93.0,590.4 96.3,588.3 99.4,590.9 106.9,591.6 115.7,592.9 125.8,594.4 132.1,592.4 136.7,594.1 142.2,587.8 148.0,584.1 152.3,585.8 157.4,591.6 163.7,594.1 170.0,596.2 176.3,596.7 180.1,595.4 185.1,597.2 191.4,595.4 197.7,596.2 204.0,597.9 210.3,595.4 217.9,592.4 221.7,591.6 225.5,594.1 230.5,592.4 236.8,591.9 240.6,590.4 243.9,588.3 248.2,592.4 248.0,594.1 253.0,595.4 256.8,596.7 261.9,594.9 266.9,592.4 272.0,594.9 275.7,593.4 279.5,590.4 284.6,589.1 289.6,591.6 294.7,593.4 299.7,594.1 304.8,590.4 309.8,587.3 314.1,587.3 318.6,591.6 323.7,594.1 330.0,595.4 335.0,597.2 340.1,594.9 345.1,593.4 350.2,593.4 356.5,600.4 360.2,597.2 365.3,597.9 370.3,597.4 374.1,599.9 379.2,600.4 384.2,597.9 388.0,594.1 391.8,589.9 396.8,589.1 400.6,589.9 404.4,592.4 408.0,591.6 413.0,591.6 416.8,589.9 420.6,590.4 424.4,592.4 429.4,594.1 434.5,593.4 439.5,591.6 444.6,589.6 448.4,596.2 453.4,593.4 458.4,591.6 463.5,590.4 468.5,592.4 473.6,594.1 477.4,596.2 482.4,593.4 486.2,595.4 491.2,592.9 496.3,594.1 501.3,591.6 506.4,592.4 511.4,590.4 516.0,589.1 520.2,592.9 525.3,594.1 530.3,592.4 535.4,594.1 540.4,596.7 545.5,600.4 549.0,597.5 554.0,595.0 558.5,593.0 563.0,590.8 566.5,590.5 571.0,592.5 576.5,591.7 579.0,590.5" fill="none" stroke="#2aa5e0" stroke-width="1" stroke-linejoin="round"/>
</svg></body></html>
